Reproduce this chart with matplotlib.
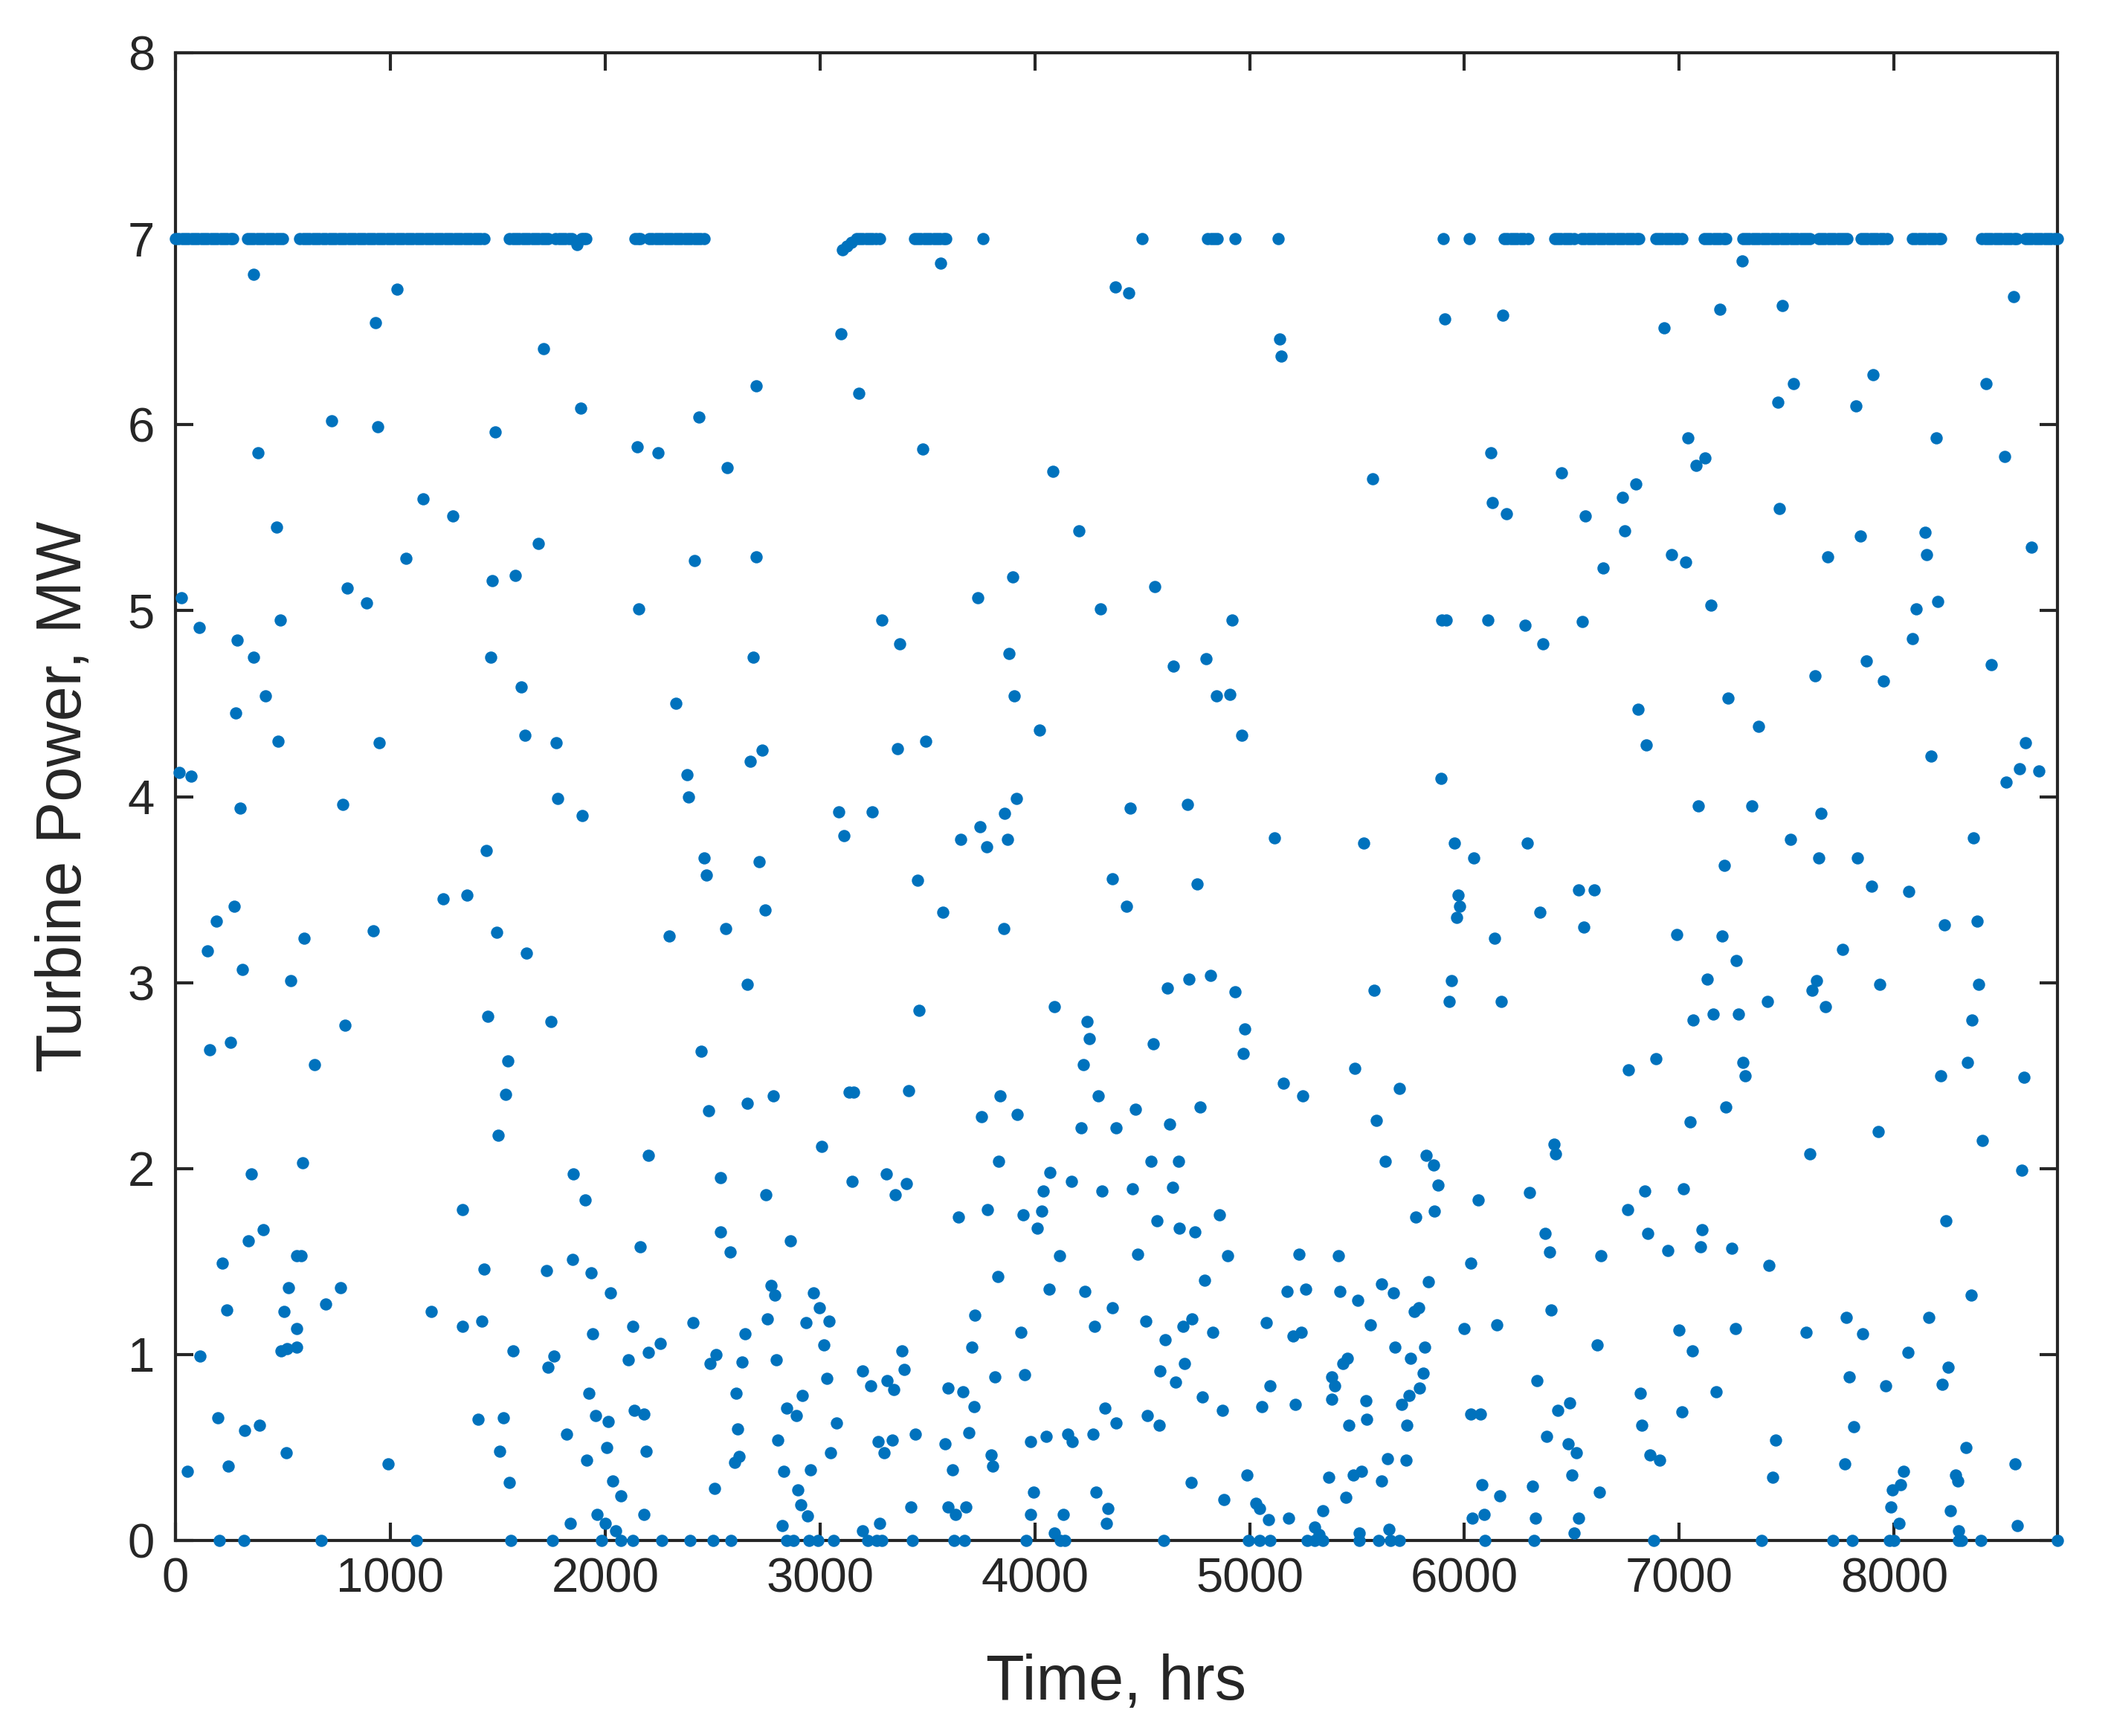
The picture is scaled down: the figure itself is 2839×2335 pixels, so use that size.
import matplotlib
matplotlib.use("Agg")
import matplotlib.pyplot as plt

plt.rcParams['font.family'] = ['Liberation Sans', 'DejaVu Sans']

# hours where the turbine sits at rated output (7 MW)
rated_hours = [0, 15, 30, 45, 60, 75, 90, 105, 120, 135, 150, 165, 180, 195, 210, 225, 240, 255, 268,
               335, 350, 365, 380, 395, 410, 425, 440, 455, 470, 485, 500,
               580, 595, 610, 625, 640, 655, 670, 685, 700, 715, 730, 745, 760, 775, 790, 805,
               820, 835, 850, 865, 880, 895, 910, 925, 940, 955, 970, 985, 1000, 1015, 1030,
               1045, 1060, 1075, 1090, 1105, 1120, 1135, 1150, 1165, 1180, 1195, 1210, 1225,
               1240, 1255, 1270, 1285, 1300, 1315, 1330, 1345, 1360, 1375, 1390, 1405, 1420, 1438,
               1555, 1570, 1585, 1600, 1615, 1630, 1645, 1660, 1675, 1690, 1705, 1720, 1734,
               1770, 1785, 1800, 1815, 1830, 1845, 1890, 1900, 1912, 2140, 2152, 2165,
               2205, 2220, 2235, 2250, 2265, 2280, 2295, 2310, 2325, 2340, 2355, 2370, 2385,
               2400, 2415, 2430, 2445, 2460,
               3170, 3185, 3200, 3215, 3230, 3245, 3260, 3278,
               3440, 3455, 3470, 3485, 3500, 3515, 3530, 3545, 3560, 3575, 3587,
               3760, 4499, 4805, 4820, 4835, 4850, 4933, 5132, 5900, 6022,
               6185, 6200, 6215, 6230, 6245, 6260, 6275, 6295,
               6420, 6435, 6450, 6465, 6480, 6495, 6510,
               6545, 6560, 6575, 6590, 6605, 6620, 6635, 6650, 6665, 6680, 6695, 6710, 6725,
               6740, 6755, 6770, 6785, 6800, 6812,
               6890, 6905, 6920, 6935, 6950, 6965, 6980, 6995, 7012,
               7115, 7130, 7145, 7160, 7175, 7190, 7205, 7218,
               7295, 7310, 7325, 7340, 7355, 7370, 7385, 7400, 7415, 7430, 7445, 7460, 7475,
               7490, 7505, 7520, 7535, 7550, 7565, 7580, 7595, 7608,
               7648, 7663, 7678, 7693, 7708, 7723, 7738, 7753, 7768, 7782,
               7845, 7860, 7875, 7890, 7905, 7920, 7935, 7950, 7968,
               8085, 8100, 8115, 8130, 8145, 8160, 8175, 8190, 8205, 8218,
               8408, 8423, 8438, 8453, 8468, 8483, 8498, 8513, 8528, 8543, 8558, 8570,
               8610, 8625, 8640, 8655, 8670, 8685, 8700, 8715, 8730, 8745, 8760]

# high output hours (above ~5.2 MW)
high_hours = [1871, 3106, 3125, 3145,
              365, 1033, 931, 1712, 1885, 728, 941, 1487, 2150, 386, 1152, 1293, 472, 1691, 1073,
              3563, 4375, 3099, 2704, 3182, 2438, 2248, 2570, 3480, 4083, 4205, 2416, 2704,
              4439, 5139, 5146, 5907, 6180, 5573, 6123, 6453, 6130, 6195, 6561,
              7293, 8556, 7188, 7481, 6928, 7902, 8428, 7531, 7459, 7822, 7041, 8195, 7120,
              7080, 8515, 6797, 6737, 7466, 6747, 7842, 8146, 8639, 6965, 7030, 7691, 8150, 6647]
high_mw = [6.97, 6.94, 6.96, 6.98,
           6.81, 6.73, 6.55, 6.41, 6.09, 6.02, 5.99, 5.96, 5.88, 5.85, 5.60, 5.51, 5.45, 5.36, 5.28,
           6.87, 6.74, 6.49, 6.21, 6.17, 6.04, 5.85, 5.77, 5.87, 5.75, 5.43, 5.27, 5.29,
           6.71, 6.46, 6.37, 6.57, 6.59, 5.71, 5.85, 5.74, 5.58, 5.52, 5.51,
           6.88, 6.69, 6.62, 6.64, 6.52, 6.27, 6.22, 6.22, 6.12, 6.10, 5.93, 5.93, 5.82,
           5.78, 5.83, 5.68, 5.61, 5.55, 5.43, 5.40, 5.42, 5.34, 5.30, 5.26, 5.29, 5.30, 5.23]

# mid output hours (~2.5 to 5.2 MW)
mid_hours = [1475, 1583, 800, 890, 28, 2158, 488, 110, 286, 362, 1468, 1609, 419, 280, 477,
             948, 1626, 1774, 17, 74, 301, 778, 1781, 1892, 1447, 1245, 1356, 273, 189, 599,
             922, 1497, 1633, 150, 311, 537, 1454, 1748, 789, 158, 258, 649, 1547,
             3896, 3735, 4306, 3290, 3372, 2689, 3879, 3904, 2330, 4023, 3362, 3491, 2732,
             2675, 2380, 2388, 3089, 3243, 3113, 3914, 3860, 3745, 3655, 3778, 3875, 2462,
             2470, 2718, 3454, 4363, 2744, 3573, 2299, 2560, 3856, 2663, 3462, 4093, 4245,
             4253, 2448, 4227,
             4560, 4919, 5893, 5915, 6109, 6281, 6364, 6547, 4646, 4798, 4847, 4909, 4962,
             5890, 4446, 4712, 5117, 5531, 5955, 6293, 6044, 4428, 4755, 5972, 5976, 5965,
             6353, 6532, 6554, 6140, 4617, 4719, 4818, 4933, 5580, 5940, 5929, 6173, 4976,
             4969, 4550, 5491,
             7146, 8102, 8203, 8087, 7872, 8451, 7631, 7952, 7226, 6808, 7368, 6845, 8173,
             8613, 8583, 8673, 8523, 7090, 7338, 7661, 7519, 8371, 7210, 7651, 7831, 6605,
             7895, 8067, 8236, 8388, 6990, 7200, 7759, 7266, 7131, 7639, 7619, 7932, 8394,
             7409, 7681, 7065, 7158, 7275, 8361, 6890, 6764, 7296, 8343]
mid_mw = [5.16, 5.19, 5.12, 5.04, 5.07, 5.01, 4.95, 4.91, 4.84, 4.75, 4.75, 4.59, 4.54, 4.45, 4.30,
          4.29, 4.33, 4.29, 4.13, 4.11, 3.94, 3.96, 3.99, 3.90, 3.71, 3.45, 3.47, 3.41, 3.33, 3.24,
          3.28, 3.27, 3.16, 3.17, 3.07, 3.01, 2.82, 2.79, 2.77, 2.64, 2.68, 2.56, 2.58,
          5.18, 5.07, 5.01, 4.95, 4.82, 4.75, 4.77, 4.54, 4.50, 4.36, 4.26, 4.30, 4.25,
          4.19, 4.12, 4.00, 3.92, 3.92, 3.79, 3.99, 3.91, 3.84, 3.77, 3.73, 3.77, 3.67,
          3.58, 3.65, 3.55, 3.56, 3.39, 3.38, 3.25, 3.29, 3.29, 2.99, 2.85, 2.87, 2.79,
          2.70, 2.63, 2.56,
          5.13, 4.95, 4.95, 4.95, 4.95, 4.92, 4.82, 4.94, 4.70, 4.74, 4.54, 4.55, 4.33,
          4.10, 3.94, 3.96, 3.78, 3.75, 3.75, 3.75, 3.67, 3.41, 3.53, 3.47, 3.41, 3.35,
          3.38, 3.50, 3.30, 3.24, 2.97, 3.02, 3.04, 2.95, 2.96, 3.01, 2.90, 2.90, 2.75,
          2.62, 2.67, 2.54,
          5.03, 5.01, 5.05, 4.85, 4.73, 4.71, 4.65, 4.62, 4.53, 4.47, 4.38, 4.28, 4.22,
          4.29, 4.15, 4.14, 4.08, 3.95, 3.95, 3.91, 3.77, 3.78, 3.63, 3.67, 3.67, 3.50,
          3.52, 3.49, 3.31, 3.33, 3.26, 3.25, 3.18, 3.12, 3.02, 3.01, 2.96, 2.99, 2.99,
          2.90, 2.87, 2.80, 2.83, 2.83, 2.80, 2.59, 2.53, 2.57, 2.57]

# low output hours (below ~2.5 MW)
low_hours = [1536, 1504, 352, 592, 1335, 1853, 1906, 2200, 408, 340, 218, 2165, 563, 585, 1437,
             1727, 1849, 1935, 2026, 527, 767, 240, 505, 699, 1192, 566, 563, 520, 491, 1336,
             1425, 2130, 1942, 1573, 1763, 1734, 2107, 2200, 115, 1925, 197, 393, 323, 1408,
             1525, 1820, 1957, 2015, 2135, 2180, 516, 991, 247, 57, 1511, 2007, 1914, 2190,
             1554, 2036, 2072, 2180, 1839, 1964, 2000, 2050,
             2783, 3135, 3156, 3412, 2481, 2663, 3839, 3753, 3918, 4296, 4215, 4378, 3008,
             2538, 2750, 3149, 3310, 3401, 3350, 3832, 4072, 4040, 4172, 4313, 3645, 3781,
             3947, 4033, 4011, 2538, 2582, 2862, 4115, 3827, 4066, 4234, 4363, 2773, 2790,
             2970, 2998, 3041, 2409, 2754, 2934, 3721, 4277, 3937, 2653, 2258, 3020, 2517,
             2488, 2639, 2797, 3382, 3707, 3393, 3199, 3814, 3954, 3031, 3235, 3314, 3343,
             3595, 3666, 3717, 2610, 2919, 2847, 2891, 3077, 4325, 2618, 2804, 3271, 3336,
             3300, 3444, 3584, 3692, 3982, 4054, 4155, 4176, 4270, 4378, 3049, 3796, 3803,
             2603, 2625, 2833, 2955, 3616, 2510, 2898, 2912, 2941, 3422, 3595, 3630, 3681,
             3994, 3982, 4133, 4284, 4341, 4334, 2826, 3278, 3199, 4090,
             5157, 5249, 5699, 4468, 4770, 4629, 5591, 4540, 4669, 5632, 5821, 5857, 6417,
             6425, 5876, 4456, 4640, 6302, 6063, 4568, 4672, 4744, 4859, 5775, 5860, 6375,
             4478, 4899, 5229, 5412, 6396, 6030, 4791, 5175, 5261, 5419, 5502, 5613, 5670,
             5833, 4517, 4689, 4732, 4830, 5077, 5203, 5239, 4607, 5563, 5766, 5789, 5997,
             6152, 6403, 5678, 5814, 5749, 4698, 5455, 5433, 4583, 4657, 5096, 5807, 5383,
             5397, 6338, 5792, 4780, 5383, 5541, 5706, 5742, 4525, 4578, 4873, 5057, 5211,
             6030, 6073, 6436, 6489, 5462, 5545, 5732, 6381, 6482, 6522, 5642, 5728, 4729,
             4988, 5369, 5484, 5522, 5613, 6501, 6083, 6166, 6317, 5448, 4880, 5031, 5045,
             5088, 5182, 5340, 6037, 6091, 6331, 6532, 5304, 5325, 5512, 5649, 6511,
             7305, 8218, 8606, 7218, 7050, 7925, 7609, 8410, 8594, 6839, 7020, 6760, 8240,
             6854, 7105, 7098, 6947, 7244, 6636, 7418, 8358, 7779, 8161, 7000, 7260, 7591,
             7854, 6617, 7060, 8064, 8252, 7792, 7962, 8225, 6817, 7173, 7011, 6827, 7812,
             7448, 8334, 6865, 6910, 7771, 8563, 7436, 8045, 8030, 7992, 7985, 8022, 8285,
             8297, 6627, 8263, 8575, 8300]
low_mw = [2.40, 2.18, 1.97, 2.03, 1.78, 1.97, 1.83, 2.07, 1.67, 1.61, 1.49, 1.58, 1.53, 1.53, 1.46,
          1.45, 1.51, 1.44, 1.33, 1.36, 1.36, 1.24, 1.23, 1.27, 1.23, 1.14, 1.04, 1.03, 1.02, 1.15,
          1.18, 1.15, 1.11, 1.02, 0.99, 0.93, 0.97, 1.01, 0.99, 0.79, 0.66, 0.62, 0.59, 0.65,
          0.66, 0.57, 0.67, 0.64, 0.70, 0.68, 0.47, 0.41, 0.40, 0.37, 0.48, 0.50, 0.43, 0.48,
          0.31, 0.32, 0.24, 0.14, 0.09, 0.14, 0.09, 0.05,
          2.39, 2.41, 2.41, 2.42, 2.31, 2.35, 2.39, 2.28, 2.29, 2.39, 2.22, 2.22, 2.12,
          1.95, 1.86, 1.93, 1.97, 1.92, 1.86, 2.04, 1.98, 1.88, 1.93, 1.88, 1.74, 1.78,
          1.75, 1.77, 1.68, 1.66, 1.55, 1.61, 1.53, 1.42, 1.35, 1.34, 1.25, 1.37, 1.32,
          1.33, 1.25, 1.18, 1.17, 1.19, 1.17, 1.21, 1.15, 1.12, 1.11, 1.06, 1.05, 1.00,
          0.95, 0.96, 0.97, 1.02, 1.04, 0.92, 0.91, 0.88, 0.89, 0.87, 0.83, 0.86, 0.81,
          0.82, 0.80, 0.72, 0.79, 0.78, 0.71, 0.67, 0.63, 0.71, 0.60, 0.54, 0.53, 0.54,
          0.47, 0.57, 0.52, 0.58, 0.53, 0.56, 0.57, 0.53, 0.57, 0.63, 0.47, 0.46, 0.40,
          0.42, 0.45, 0.37, 0.38, 0.38, 0.28, 0.27, 0.19, 0.13, 0.18, 0.18, 0.14, 0.18,
          0.26, 0.14, 0.14, 0.26, 0.17, 0.09, 0.08, 0.09, 0.05, 0.04,
          2.46, 2.39, 2.43, 2.32, 2.33, 2.24, 2.26, 2.04, 2.04, 2.04, 2.07, 2.02, 2.13,
          2.08, 1.91, 1.89, 1.90, 1.87, 1.83, 1.72, 1.68, 1.66, 1.75, 1.74, 1.77, 1.65,
          1.54, 1.53, 1.54, 1.53, 1.55, 1.49, 1.40, 1.34, 1.35, 1.34, 1.29, 1.38, 1.33,
          1.39, 1.18, 1.15, 1.19, 1.12, 1.17, 1.10, 1.12, 1.08, 1.16, 1.23, 1.25, 1.14,
          1.16, 1.24, 1.04, 1.04, 0.98, 0.95, 0.98, 0.95, 0.91, 0.85, 0.83, 0.90, 0.88,
          0.83, 0.86, 0.82, 0.77, 0.76, 0.75, 0.73, 0.78, 0.67, 0.62, 0.70, 0.72, 0.73,
          0.68, 0.68, 0.70, 0.74, 0.62, 0.65, 0.62, 0.56, 0.52, 0.47, 0.44, 0.43, 0.31,
          0.35, 0.34, 0.35, 0.37, 0.32, 0.35, 0.30, 0.24, 0.29, 0.23, 0.22, 0.20, 0.17,
          0.11, 0.12, 0.16, 0.12, 0.14, 0.12, 0.12, 0.07, 0.03, 0.04, 0.06, 0.04,
          2.50, 2.50, 2.49, 2.33, 2.25, 2.20, 2.08, 2.15, 1.99, 1.88, 1.89, 1.78, 1.72,
          1.65, 1.67, 1.58, 1.56, 1.57, 1.53, 1.48, 1.32, 1.20, 1.20, 1.13, 1.14, 1.12,
          1.11, 1.05, 1.02, 1.01, 0.93, 0.88, 0.83, 0.84, 0.79, 0.80, 0.69, 0.62, 0.61,
          0.54, 0.50, 0.46, 0.43, 0.41, 0.41, 0.34, 0.37, 0.30, 0.27, 0.18, 0.09, 0.35,
          0.32, 0.26, 0.16, 0.08, 0.05]

# hours with zero output
zero_hours = [204, 319, 678, 1123, 1561, 1756, 1985, 2072,
              2129, 2265, 2395, 2503, 2586, 2847, 2876, 2948, 2991, 3063, 3221, 3264,
              3290, 3429, 3623, 3674, 3961, 4119, 4141,
              4600, 4995, 5045, 5096, 5268, 5304, 5340, 5512, 5599, 5656, 5699, 6094, 6324,
              6880, 7383, 7714, 7804, 7977, 7999, 8300, 8314, 8405, 8760]

hours = rated_hours + high_hours + mid_hours + low_hours + zero_hours
power = ([7.0] * len(rated_hours) + high_mw + mid_mw + low_mw
         + [0.0] * len(zero_hours))

fig = plt.figure(figsize=(28.39, 23.35), dpi=100)
ax = fig.add_axes([0.0831, 0.1127, 0.8915, 0.8568])

ax.scatter(hours, power, s=140, c='#0072BD', marker='o', linewidths=0,
           clip_on=False, zorder=3)

ax.set_xlim(0, 8760)
ax.set_ylim(0, 8)
ax.set_xticks(range(0, 8001, 1000))
ax.set_yticks(range(0, 9))

dark = '#262626'
for sp in ax.spines.values():
    sp.set_linewidth(3)
    sp.set_color(dark)
ax.tick_params(direction='in', length=17, width=3, top=True, right=True,
               labelsize=47, colors=dark)
ax.tick_params(axis='x', pad=16)
ax.tick_params(axis='y', pad=20)

ax.set_xlabel('Time, hrs', fontsize=61, color=dark, labelpad=50)
ax.set_ylabel('Turbine Power, MW', fontsize=61, color=dark, labelpad=32)

fig.savefig('out.png', dpi=100, facecolor='white')
